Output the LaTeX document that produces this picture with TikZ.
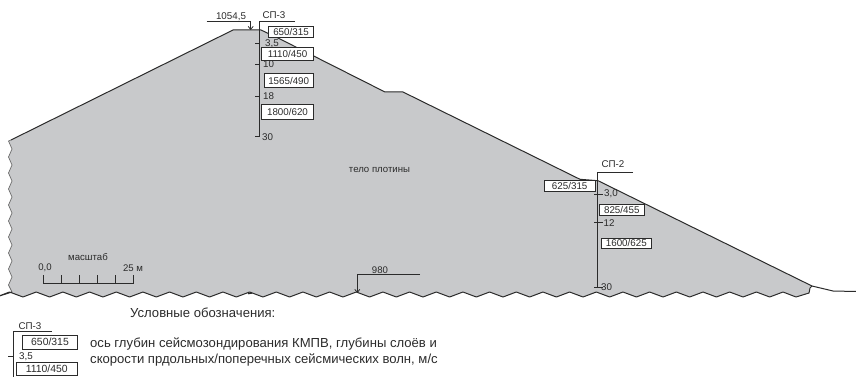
\documentclass[tikz,border=0pt]{standalone}
\usepackage{fontspec}
\usetikzlibrary{arrows.meta}
\setmainfont{Liberation Sans}
\definecolor{damfill}{HTML}{C8C9CB}
\definecolor{ink}{HTML}{2B2B2B}
\tikzset{
  dimline/.style={draw=ink,line width=0.8pt},
  outline/.style={draw=ink,line width=1pt,line join=round},
  valbox/.style={draw=ink,fill=white,line width=0.8pt,inner sep=0pt,font=\fontsize{9.8}{10}\selectfont,text=ink,anchor=center},
  lab/.style={inner sep=0pt,font=\fontsize{9.8}{10}\selectfont,text=ink},
  smalllab/.style={inner sep=0pt,font=\fontsize{9.6}{10}\selectfont,text=ink},
  biglab/.style={inner sep=0pt,font=\fontsize{13.1}{14}\selectfont,text=ink,anchor=west},
}
\begin{document}
\begin{tikzpicture}[x=1pt,y=-1pt]
\useasboundingbox (0,0) rectangle (856,377);
% dam body
\fill[damfill] (11,140) -- (233,30) -- (261,30) -- (280,39) -- (385,92) -- (403,92) -- (580,179.3) -- (598,180.7) -- (812,286) -- (810,288) -- (809,293) -- (796,297)
  \foreach \i in {0,...,29} { -- ({783-26.67*\i},292) -- ({769.7-26.67*\i},297) } -- (12,292) -- (8.5,285)
  \foreach \j in {0,...,8} { -- (12,{277-16*\j}) -- (8.5,{269-16*\j}) } -- cycle;
% left broken edge
\draw[draw=ink!70,line width=0.7pt,line join=round] (12,292) -- (8.5,285)
  \foreach \j in {0,...,8} { -- (12,{277-16*\j}) -- (8.5,{269-16*\j}) } -- (11,140);
% crest and slope
\draw[outline] (11,140) -- (233,30) -- (261,30) -- (280,39) -- (385,92) -- (403,92) -- (580,179.3) -- (598,180.7) -- (812,286) -- (833,291) -- (856,291.5);
% bottom broken edge
\draw[outline] (812,286) -- (810,288) -- (809,293) -- (796,297)
  \foreach \i in {0,...,29} { -- ({783-26.67*\i},292) -- ({769.7-26.67*\i},297) } -- (12,292);
\draw[ink,line width=1.4pt] (248,293.6) -- (252,293);
% survey axis SP-3
\coordinate (a3top) at (259.5,21);
\coordinate (a3end) at (295,21);
\coordinate (a3bot) at (259.5,137);
\draw[dimline] (a3end) -- (a3top) -- (a3bot);
\node[lab] (sp3) at (274,15.5) {СП-3};
\foreach \n/\y in {t35/43,t10/64,t18/96,t30/136.5} {
  \coordinate (\n a) at (255,\y); \coordinate (\n b) at (260,\y);
  \draw[dimline] (\n a) -- (\n b);
}
\node[lab,anchor=west] (l35) at (265,43.5) {3,5};
\node[lab,anchor=west] (l10) at (263,64) {10};
\node[lab,anchor=west] (l18) at (263,96) {18};
\node[lab,anchor=west] (l30) at (262,137.5) {30};
\node[valbox,minimum width=44.6pt,minimum height=10.6pt] (b1) at (291,32) {650/315};
\node[valbox,minimum width=51.6pt,minimum height=13.7pt] (b2) at (287.5,53.8) {1110/450};
\node[valbox,minimum width=49.3pt,minimum height=14.4pt] (b3) at (288.7,80.5) {1565/490};
\node[valbox,minimum width=51.6pt,minimum height=15pt] (b4) at (287.5,111.8) {1800/620};
% crest mark
\coordinate (c1) at (206.7,21);
\coordinate (c2) at (250.7,21);
\coordinate (c3) at (250.7,30);
\draw[dimline] (c1) -- (c2);
\draw[dimline,-{Straight Barb[length=3pt,width=5pt]}] (c2) -- (c3);
\node[lab] (l1054) at (231,16.5) {1054,5};
% survey axis SP-2
\coordinate (a2top) at (597.7,172);
\coordinate (a2end) at (633,172);
\coordinate (a2bot) at (597.7,287);
\draw[dimline] (a2end) -- (a2top) -- (a2bot);
\node[lab] (sp2) at (613,164) {СП-2};
\foreach \n/\y in {u30/194,u12/222.7,u3/287} {
  \coordinate (\n a) at (594,\y); \coordinate (\n b) at (602.5,\y);
  \draw[dimline] (\n a) -- (\n b);
}
\node[lab,anchor=west] (m30) at (604,194) {3,0};
\node[lab,anchor=west] (m12) at (603.5,223) {12};
\node[lab,anchor=west] (m3) at (601,287.5) {30};
\node[valbox,minimum width=50.7pt,minimum height=11pt] (d1) at (569.7,186.2) {625/315};
\node[valbox,minimum width=45pt,minimum height=11.4pt] (d2) at (621.8,210) {825/455};
\node[valbox,minimum width=49.3pt,minimum height=10pt] (d3) at (626.3,243.3) {1600/625};
% datum 980
\coordinate (e1) at (420,274);
\coordinate (e2) at (357.3,274);
\coordinate (e3) at (357.3,293);
\draw[dimline] (e1) -- (e2);
\draw[dimline,-{Straight Barb[length=3pt,width=5pt]}] (e2) -- (e3);
\node[smalllab] (l980) at (380,270) {980};
\node[smalllab] (body) at (379.5,170) {тело плотины};
% scale bar
\coordinate (s0) at (43.5,275);
\coordinate (s1) at (43.5,283.5);
\coordinate (s2) at (133,283.5);
\coordinate (s3) at (133,275);
\draw[dimline] (s0) -- (s1) -- (s2) -- (s3);
\foreach \n/\x in {p1/61.5,p2/79.5,p3/97,p4/115} {
  \coordinate (\n a) at (\x,275); \coordinate (\n b) at (\x,283.5);
  \draw[dimline] (\n a) -- (\n b);
}
\node[smalllab] (ms) at (88,257) {масштаб};
\node[smalllab] (s00) at (45,268) {0,0};
\node[smalllab] (s25) at (133,268) {25 м};
% legend
\node[biglab] (title) at (130,313) {Условные обозначения:};
\coordinate (g1) at (52,331);
\coordinate (g2) at (13,331);
\coordinate (g3) at (13,377);
\draw[dimline] (g1) -- (g2) -- (g3);
\coordinate (g4) at (8,356);
\coordinate (g5) at (14,356);
\draw[dimline] (g4) -- (g5);
\node[lab] (gsp) at (30,326) {СП-3};
\node[lab,anchor=west] (g35) at (19,356.5) {3,5};
\node[valbox,font=\fontsize{10.4}{11}\selectfont,minimum width=54.6pt,minimum height=14.3pt] (h1) at (50,342.2) {650/315};
\node[valbox,font=\fontsize{10.4}{11}\selectfont,minimum width=61.3pt,minimum height=12.3pt] (h2) at (46.7,368.9) {1110/450};
\node[biglab] (t1) at (90,344) {ось глубин сейсмозондирования КМПВ, глубины слоёв и};
\node[biglab] (t2) at (90,359.5) {скорости прдольных/поперечных сейсмических волн, м/с};
\end{tikzpicture}
\end{document}
